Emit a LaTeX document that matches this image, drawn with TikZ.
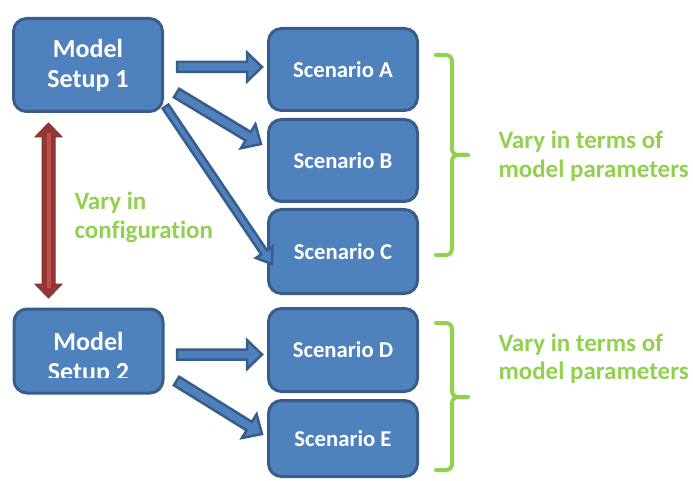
\documentclass[tikz,border=0pt]{standalone}
\usepackage{fontspec}
\setmainfont{Carlito}[Ligatures=NoCommon]
\usetikzlibrary{calc}

\definecolor{boxfill}{HTML}{4F81BD}
\definecolor{boxline}{HTML}{385D8A}
\definecolor{vargreen}{HTML}{92D050}
\definecolor{reddark}{HTML}{943634}
\definecolor{redlight}{HTML}{C0504D}

% block arrow: #1 tail, #2 tip, #3 shaft half-width, #4 head half-width, #5 head length
\newcommand\blkarrow[5]{%
  \path ($(#2)!#5!(#1)$) coordinate (hb);
  \filldraw[blockarrow]
    ($(#1)!#3!90:(#2)$) -- ($(hb)!#3!90:(#2)$) -- ($(hb)!#4!90:(#2)$) -- (#2)
    -- ($(hb)!#4!-90:(#2)$) -- ($(hb)!#3!-90:(#2)$) -- ($(#1)!#3!-90:(#2)$) -- cycle;
}

\tikzset{
  setupbox/.style={draw=boxline, fill=boxfill, line width=3pt, rounded corners=13pt,
    minimum width=149pt, text=white, font=\bfseries\fontsize{26}{30}\selectfont, align=center},
  scenbox/.style={draw=boxline, fill=boxfill, line width=3pt, rounded corners=13pt,
    minimum width=149pt, text=white, font=\bfseries\fontsize{22.7}{26}\selectfont},
  blockarrow/.style={fill=boxfill, draw=boxline, line width=2.5pt, line join=miter},
  brace/.style={draw=vargreen, line width=4pt, rounded corners=6pt, line cap=round},
  greentext/.style={text=vargreen, font=\bfseries\fontsize{25}{28.5}\selectfont, align=left, anchor=west},
}

\begin{document}
\begin{tikzpicture}[x=1pt, y=-1pt]
\useasboundingbox (0,0) rectangle (693,481);

% model setups
\node[setupbox, minimum height=93pt] (m1) at (88,65) {Model\\Setup 1};
\node[setupbox, minimum height=84pt] (m2) at (88.5,351) {};
\begin{scope}
  \clip (20,320) rectangle (160,377);
  \node[text=white, font=\bfseries\fontsize{26}{30}\selectfont, align=center] (m2t) at (88.5,358) {Model\\Setup 2};
\end{scope}

% scenarios
\node[scenbox, minimum height=82pt] (sa) at (343,69.5) {Scenario A};
\node[scenbox, minimum height=82pt] (sb) at (343,160.5) {Scenario B};
\node[scenbox, minimum height=84pt] (sc) at (343,251.5) {Scenario C};
\node[scenbox, minimum height=83pt] (sd) at (343,350) {Scenario D};
\node[scenbox, minimum height=76pt] (se) at (343,438.5) {Scenario E};

% arrow end points
\coordinate (a1) at (177,67);    \coordinate (a2) at (262,67);
\coordinate (b1) at (176.5,93);  \coordinate (b2) at (261,144);
\coordinate (c1) at (165.5,106.5); \coordinate (c2) at (272,264);
\coordinate (d1) at (177,354.5); \coordinate (d2) at (262,354.5);
\coordinate (e1) at (176.5,381); \coordinate (e2) at (262,434);

\blkarrow{a1}{a2}{5pt}{14.5pt}{15pt}
\blkarrow{b1}{b2}{5pt}{14pt}{15pt}
\blkarrow{c1}{c2}{3.5pt}{10pt}{14pt}
\blkarrow{d1}{d2}{5pt}{14.5pt}{15pt}
\blkarrow{e1}{e2}{5pt}{14pt}{15pt}

% configuration arrow (double headed)
\coordinate (r1) at (48.5,123);
\coordinate (r2) at (48.5,298);
\filldraw[fill=reddark, draw=reddark!90!black, line width=1pt, line join=miter]
  (r1) -- ($(r1)+(13.5,14)$) -- ($(r1)+(6.5,14)$) -- ($(r2)+(6.5,-14)$) -- ($(r2)+(13.5,-14)$)
  -- (r2) -- ($(r2)+(-13.5,-14)$) -- ($(r2)+(-6.5,-14)$) -- ($(r1)+(-6.5,14)$) -- ($(r1)+(-13.5,14)$) -- cycle;
\draw[redlight, line width=4pt] ($(r1)+(0,10)$) -- ($(r2)+(0,-10)$);

\node[greentext] (cfg) at (71,217.5) {Vary in\\configuration};

% braces
\coordinate (t1) at (436,55);  \coordinate (k1) at (468,155); \coordinate (u1) at (436,255);
\draw[brace] (t1) -| (452,155) -- (k1);
\draw[brace] (u1) -| (452,155) -- (k1);
\coordinate (t2) at (436,323); \coordinate (k2) at (468,397); \coordinate (u2) at (436,470);
\draw[brace] (t2) -| (452,397) -- (k2);
\draw[brace] (u2) -| (452,397) -- (k2);

\node[greentext] (p1) at (495,156) {Vary in terms of\\model parameters};
\node[greentext] (p2) at (495,358.5) {Vary in terms of\\model parameters};
\end{tikzpicture}
\end{document}
